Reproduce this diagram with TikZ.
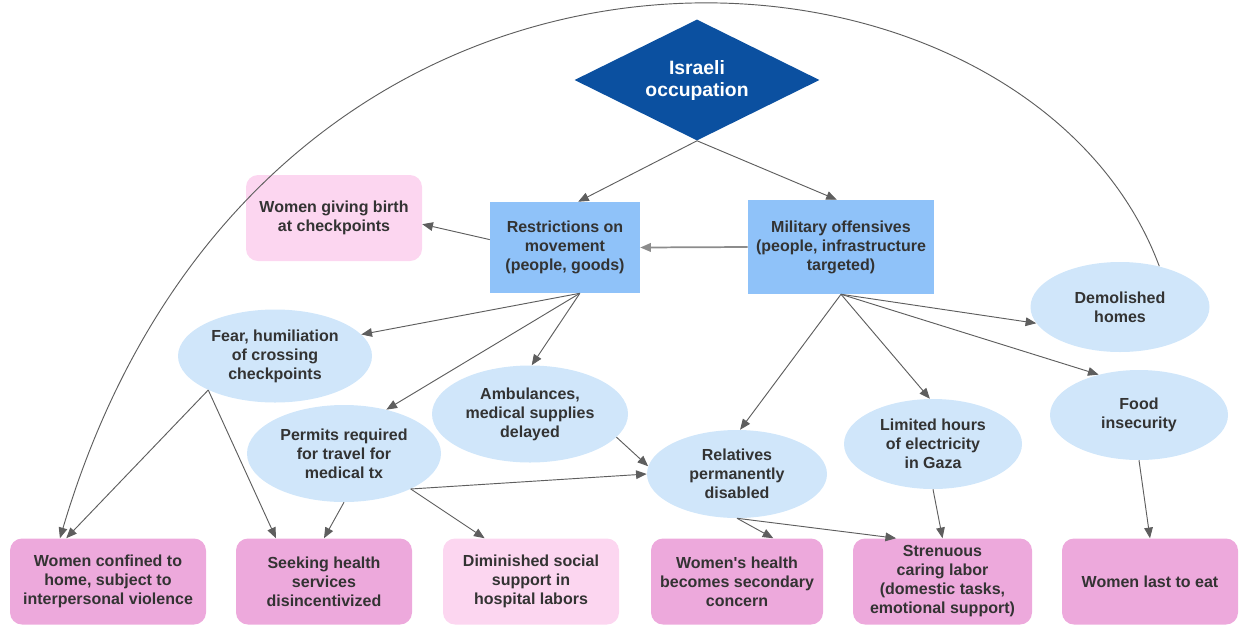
\documentclass[tikz,border=0pt]{standalone}
\usepackage{fontspec}
\setmainfont{Liberation Sans}
\usepackage{tikz}
\usetikzlibrary{arrows.meta,shapes.geometric}
\usepackage{xcolor}
\definecolor{occblue}{HTML}{0B50A0}
\definecolor{boxblue}{HTML}{8FC2F9}
\definecolor{ellblue}{HTML}{D0E6FA}
\definecolor{pinkdark}{HTML}{EDA9DC}
\definecolor{pinklight}{HTML}{FCD6F0}
\definecolor{txt}{HTML}{333333}
\definecolor{linegray}{HTML}{5E5E5E}
\definecolor{lightline}{HTML}{8C8C8C}

\begin{document}
\begin{tikzpicture}[x=0.75pt, y=-0.75pt,
	every node/.style={font=\bfseries\fontsize{12}{14.25}\selectfont, text=txt, align=center, inner sep=0pt},
	blubox/.style={rectangle, fill=boxblue},
	soft/.style={ellipse, fill=ellblue},
	pinkbox/.style={rectangle, rounded corners=9pt, fill=pinkdark, minimum height=64.5pt},
	palebox/.style={pinkbox, fill=pinklight},
	link/.style={draw=linegray, line width=0.7pt, -{Triangle[length=8pt,width=6.5pt]}}]
				\useasboundingbox (0,0) rectangle (1239,626);
				% top of the chain
				\node[diamond, aspect=2, fill=occblue, text=white, minimum width=183.75pt, minimum height=90.75pt, font=\bfseries\fontsize{14.5}{16.5}\selectfont] (occ) at (697,80) {Israeli\\occupation};
				\node[blubox, minimum width=112.5pt, minimum height=68.25pt] (restr) at (565,247.5) {Restrictions on\\movement\\(people, goods)};
				\node[blubox, minimum width=139.5pt, minimum height=70.5pt] (mil) at (841,247) {Military offensives\\(people, infrastructure\\targeted)};
				\node[palebox, minimum width=132pt] (birth) at (334,218) {Women giving birth\\at checkpoints};
				% middle row
				\node[soft, minimum width=145.5pt, minimum height=69.75pt] (fear) at (275,356) {Fear, humiliation\\of crossing\\checkpoints};
				\node[soft, minimum width=145.5pt, minimum height=72.75pt] (permits) at (344,453.5) {Permits required\\for travel for\\medical tx};
				\node[soft, minimum width=147pt, minimum height=72.75pt] (amb) at (530,414) {Ambulances,\\medical supplies\\delayed};
				\node[soft, minimum width=135pt, minimum height=66pt] (rel) at (737,474) {Relatives\\permanently\\disabled};
				\node[soft, minimum width=133.5pt, minimum height=67.5pt] (lim) at (933,444) {Limited hours\\of electricity\\in Gaza};
				\node[soft, minimum width=134.25pt, minimum height=67.5pt] (dem) at (1120,307) {Demolished\\homes};
				\node[soft, minimum width=133.5pt, minimum height=67.5pt] (food) at (1139,415) {Food\\insecurity};
				% bottom row
				\node[pinkbox, minimum width=147pt] (conf) at (108,581.5) {Women confined to\\home, subject to\\interpersonal violence};
				\node[pinkbox, minimum width=132pt] (seek) at (324,581.5) {Seeking health\\services\\disincentivized};
				\node[palebox, minimum width=132pt] (dim) at (531,581.5) {Diminished social\\support in\\hospital labors};
				\node[pinkbox, minimum width=129pt] (wh) at (737,581.5) {Women\textquotesingle s health\\becomes secondary\\concern};
				\node[pinkbox, minimum width=134.25pt] (str) at (942.5,581.5) {Strenuous\\caring labor\\(domestic tasks,\\emotional support)};
				\node[pinkbox, minimum width=132pt] (last) at (1150,581.5) {Women last to eat};
				% arrows
				\draw[link] (occ.south) -- (restr.74);
				\draw[link] (occ.south) -- (mil.95);
				\draw[link, line width=1.3pt, draw=lightline] (mil.west) -- (restr.east);
				\draw[link] (restr.174) -- (birth.-4);
				\draw[link] (restr.-72) -- (fear.14);
				\draw[link] (restr.-72) -- (permits.46);
				\draw[link] (restr.-72) -- (amb.88);
				\draw[link] (mil.south) -- (rel.86);
				\draw[link] (mil.south) -- (lim.94);
				\draw[link] (mil.south) -- (dem.191);
				\draw[link] (mil.south) -- (food.135);
				\draw[link] (fear.207) -- (conf.134);
				\draw[link] (fear.207) -- (seek.138);
				\draw[link] (permits.south) -- (seek.north);
				\draw[link] (permits.-28) -- (dim.137);
				\draw[link] (permits.-28) -- (rel.west);
				\draw[link] (amb.-15) -- (rel.175);
				\draw[link] (rel.south) -- (wh.50);
				\draw[link] (rel.south) -- (str.137);
				\draw[link] (lim.south) -- (str.north);
				\draw[link] (food.south) -- (last.north);
				\draw[link] (dem.46) .. controls (1025,-95) and (265,-152) .. (conf.138);
\end{tikzpicture}
\end{document}
